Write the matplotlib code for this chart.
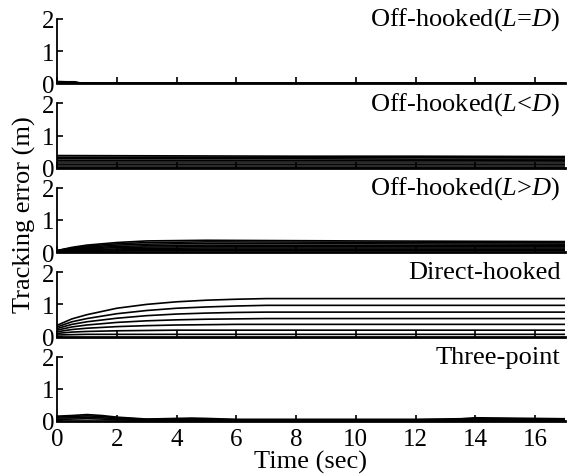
import numpy as np
import matplotlib
matplotlib.use("Agg")
import matplotlib.pyplot as plt

plt.rcParams['font.family'] = ['Liberation Serif', 'DejaVu Serif']
plt.rcParams['mathtext.fontset'] = 'custom'
plt.rcParams['mathtext.it'] = 'Liberation Serif:italic'
plt.rcParams['mathtext.rm'] = 'Liberation Serif'

# panel titles, top to bottom
titles = ['Off-hooked($L$=$D$)', 'Off-hooked($L$<$D$)', 'Off-hooked($L$>$D$)',
          'Direct-hooked', 'Three-point']

# Off-hooked (L=D): all runs sit on zero after a short blip
t_eq = [0, 0.3, 0.6, 0.8, 2, 17]
eq_lines = [
    [0.06, 0.05, 0.05, 0.01, 0.0, 0.0],
    [0.04, 0.04, 0.03, 0.01, 0.0, 0.0],
    [0.02, 0.02, 0.02, 0.0, 0.0, 0.0],
]

# Off-hooked (L<D): flat band
t_lt = [0, 4, 8, 12, 17]
lt_lines = [
    [0.38, 0.37, 0.36, 0.36, 0.35],
    [0.33, 0.33, 0.32, 0.32, 0.31],
    [0.28, 0.28, 0.28, 0.27, 0.27],
    [0.23, 0.23, 0.23, 0.23, 0.22],
    [0.18, 0.18, 0.18, 0.18, 0.18],
    [0.13, 0.13, 0.13, 0.13, 0.13],
    [0.08, 0.08, 0.08, 0.08, 0.08],
    [0.04, 0.04, 0.04, 0.04, 0.04],
]

# Off-hooked (L>D): rises from zero into a band
t_gt = [0, 0.5, 1, 2, 3, 5, 10, 17]
gt_lines = [
    [0.05, 0.15, 0.22, 0.30, 0.35, 0.37, 0.35, 0.33],
    [0.05, 0.13, 0.19, 0.26, 0.30, 0.32, 0.31, 0.29],
    [0.05, 0.11, 0.16, 0.22, 0.25, 0.27, 0.26, 0.25],
    [0.04, 0.09, 0.13, 0.18, 0.20, 0.22, 0.21, 0.21],
    [0.04, 0.08, 0.11, 0.14, 0.16, 0.17, 0.17, 0.17],
    [0.03, 0.06, 0.08, 0.10, 0.12, 0.13, 0.13, 0.13],
    [0.02, 0.04, 0.06, 0.07, 0.08, 0.09, 0.09, 0.09],
    [0.01, 0.02, 0.03, 0.04, 0.05, 0.05, 0.05, 0.05],
]

# Direct-hooked: slow rise to a spread of steady values
t_dh = [0, 0.5, 1, 2, 3, 4, 5, 6, 7, 17]
dh_lines = [
    [0.35, 0.55, 0.68, 0.88, 1.00, 1.08, 1.13, 1.16, 1.18, 1.18],
    [0.30, 0.46, 0.56, 0.71, 0.81, 0.88, 0.92, 0.95, 0.97, 0.97],
    [0.25, 0.38, 0.46, 0.57, 0.65, 0.70, 0.73, 0.75, 0.76, 0.76],
    [0.20, 0.30, 0.36, 0.44, 0.49, 0.52, 0.54, 0.55, 0.56, 0.56],
    [0.15, 0.22, 0.26, 0.31, 0.34, 0.36, 0.37, 0.38, 0.38, 0.38],
    [0.10, 0.14, 0.16, 0.18, 0.19, 0.20, 0.20, 0.20, 0.20, 0.20],
    [0.05, 0.06, 0.07, 0.07, 0.07, 0.07, 0.07, 0.07, 0.07, 0.07],
]

# Three-point: small wobble near zero
t_tp = [0, 0.5, 1, 1.5, 2, 3, 4, 4.5, 5, 6, 8, 10, 12, 13.5, 14, 15, 17]
tp_lines = [
    [0.15, 0.17, 0.20, 0.17, 0.12, 0.06, 0.08, 0.09, 0.08, 0.05, 0.05, 0.05, 0.05, 0.07, 0.10, 0.09, 0.07],
    [0.12, 0.14, 0.16, 0.14, 0.10, 0.05, 0.06, 0.07, 0.06, 0.04, 0.04, 0.04, 0.04, 0.05, 0.07, 0.07, 0.05],
    [0.09, 0.10, 0.12, 0.10, 0.07, 0.03, 0.04, 0.05, 0.04, 0.03, 0.03, 0.03, 0.03, 0.04, 0.05, 0.05, 0.04],
    [0.05, 0.06, 0.07, 0.06, 0.04, 0.02, 0.02, 0.03, 0.02, 0.02, 0.02, 0.02, 0.02, 0.02, 0.03, 0.03, 0.02],
]

panels = [(t_eq, eq_lines), (t_lt, lt_lines), (t_gt, gt_lines),
          (t_dh, dh_lines), (t_tp, tp_lines)]

fig = plt.figure(figsize=(5.74, 4.77), dpi=100)
left, right = 57 / 574, 565 / 574
bottom, top = 1 - 422 / 477, 1.0
h = (top - bottom) / 5

for i, (title, (t, lines)) in enumerate(zip(titles, panels)):
    ax = fig.add_axes([left, top - (i + 1) * h, right - left, h])
    for y in lines:
        ax.plot(t, y, color='black', linewidth=1.2)
    ax.set_xlim(0, 17)
    ax.set_ylim(0, 2.62)
    ax.spines['top'].set_visible(False)
    ax.spines['right'].set_visible(False)
    ax.spines['left'].set_bounds(0, 2)
    ax.spines['left'].set_linewidth(1.3)
    ax.spines['bottom'].set_linewidth(2.0)
    ax.set_yticks([0, 1, 2])
    ax.set_xticks(range(0, 17, 2))
    ax.tick_params(direction='in', length=4, width=1.2, labelsize=18)
    ax.tick_params(axis='y', pad=2)
    ax.tick_params(axis='x', pad=5)
    ax.patch.set_alpha(0)
    if i < 4:
        ax.tick_params(axis='x', labelbottom=False)
    ax.text(16.85, 2.0, title, ha='right', va='center', fontsize=19)

ax.set_xlabel('Time (sec)', fontsize=19, labelpad=0)
fig.text(0.042, 0.551, 'Tracking error (m)', rotation=90, ha='center', va='center', fontsize=19)

fig.savefig('out.png', dpi=100)
